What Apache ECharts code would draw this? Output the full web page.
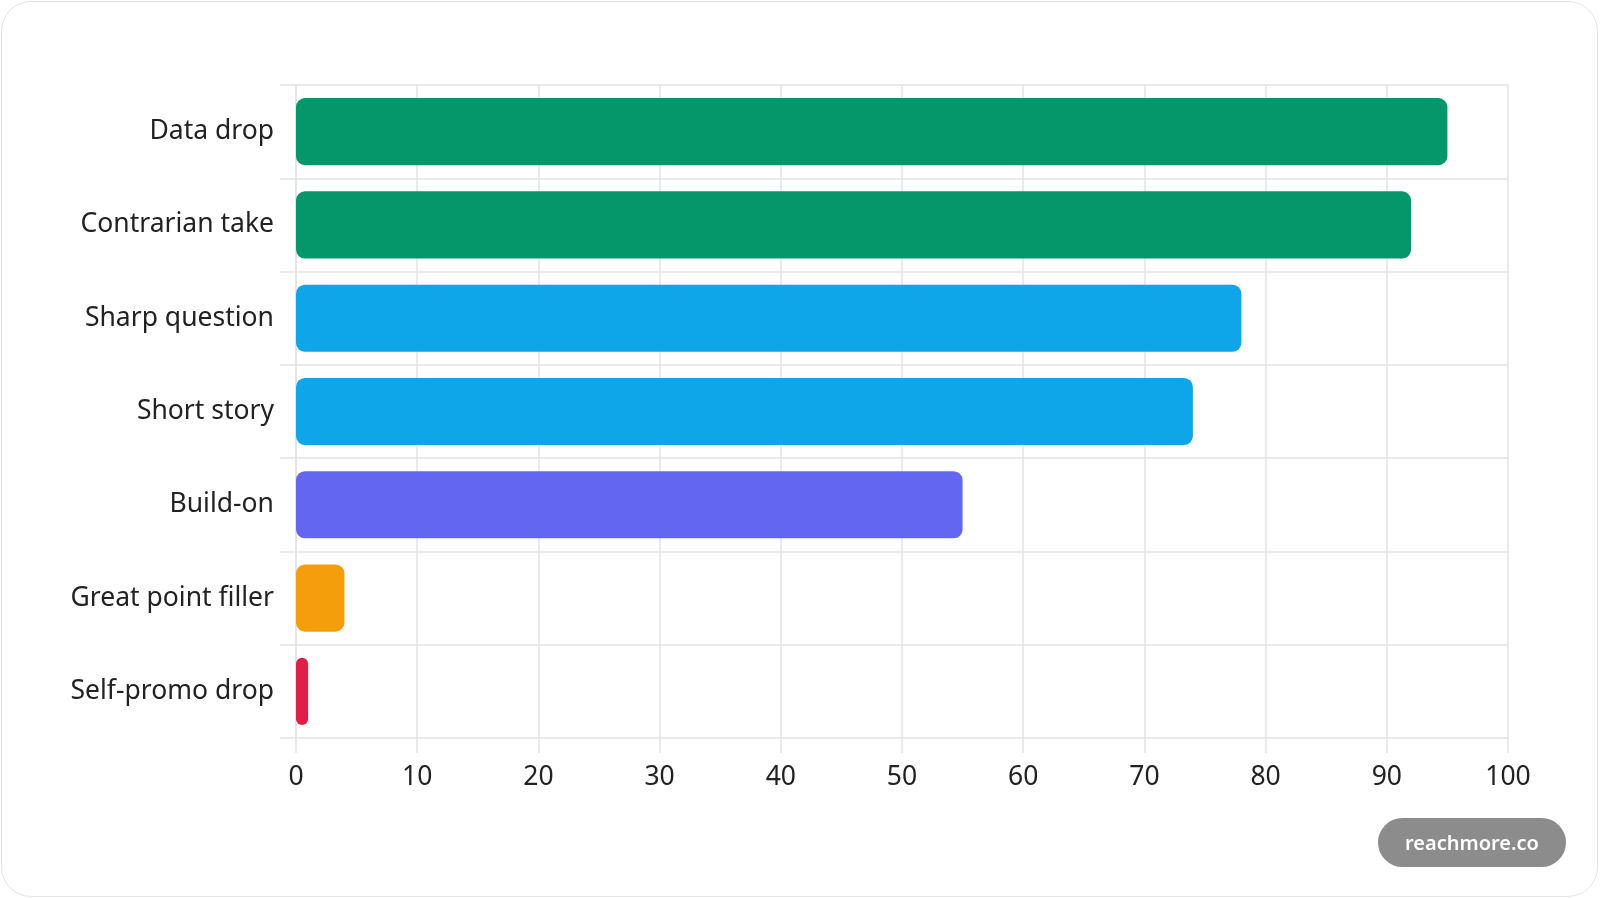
<!DOCTYPE html>
<html>
<head>
<meta charset="utf-8">
<script src="https://cdn.jsdelivr.net/npm/echarts@6/dist/echarts.min.js"></script>
<style>
html,body{margin:0;padding:0;background:#fff;}
#card{position:absolute;left:1px;top:1px;width:1597px;height:896px;border:1.5px solid #e3e3e3;border-radius:30px;box-sizing:border-box;}
#chart{position:absolute;left:0;top:0;width:1600px;height:898px;}
</style>
</head>
<body>
<div id="card"></div>
<div id="chart"></div>
<script>
const categories = ["Data drop","Contrarian take","Sharp question","Short story","Build-on","Great point filler","Self-promo drop"];
const values = [95, 92, 78, 74, 55, 4, 1];
const colors = ["#059669","#059669","#0ea5e9","#0ea5e9","#6366f1","#f59e0b","#e11d48"];
const xTicks = [0,10,20,30,40,50,60,70,80,90,100];
const watermark = "reachmore.co";

const chart = echarts.init(document.getElementById('chart'));
const font = '"Noto Sans", "Open Sans", sans-serif';
const grid = '#e3e3e3';
chart.setOption({
  animation:false,
  grid:{left:296,right:92,top:85,bottom:160,containLabel:false},
  xAxis:{
    type:'value',min:xTicks[0],max:xTicks[xTicks.length-1],interval:10,
    axisLine:{show:false},
    axisTick:{show:true,length:15,lineStyle:{color:grid,width:1.5}},
    splitLine:{show:true,lineStyle:{color:grid,width:1.5}},
    axisLabel:{color:'#222',fontSize:26.5,fontFamily:font,margin:26}
  },
  yAxis:{
    type:'category',data:categories,inverse:true,
    axisLine:{show:true,lineStyle:{color:grid,width:1.5}},
    axisTick:{show:true,length:16,lineStyle:{color:grid,width:1.5}},
    splitLine:{show:true,lineStyle:{color:grid,width:1.5}},
    axisLabel:{color:'#222',fontSize:26.5,fontFamily:font,margin:22}
  },
  series:[{
    type:'bar',
    data:values.map((v,i)=>({value:v,itemStyle:{color:colors[i]}})),
    barCategoryGap:'28%',
    itemStyle:{borderRadius:9}
  }],
  graphic:[{
    type:'group',right:34,bottom:31,
    children:[
      {type:'rect',shape:{x:0,y:0,width:188,height:49,r:24.5},style:{fill:'#8c8c8c'}},
      {type:'text',x:94,y:26,style:{text:watermark,fill:'#fff',font:'600 20px '+font,align:'center',verticalAlign:'middle'}}
    ]
  }]
});
</script>
</body>
</html>
